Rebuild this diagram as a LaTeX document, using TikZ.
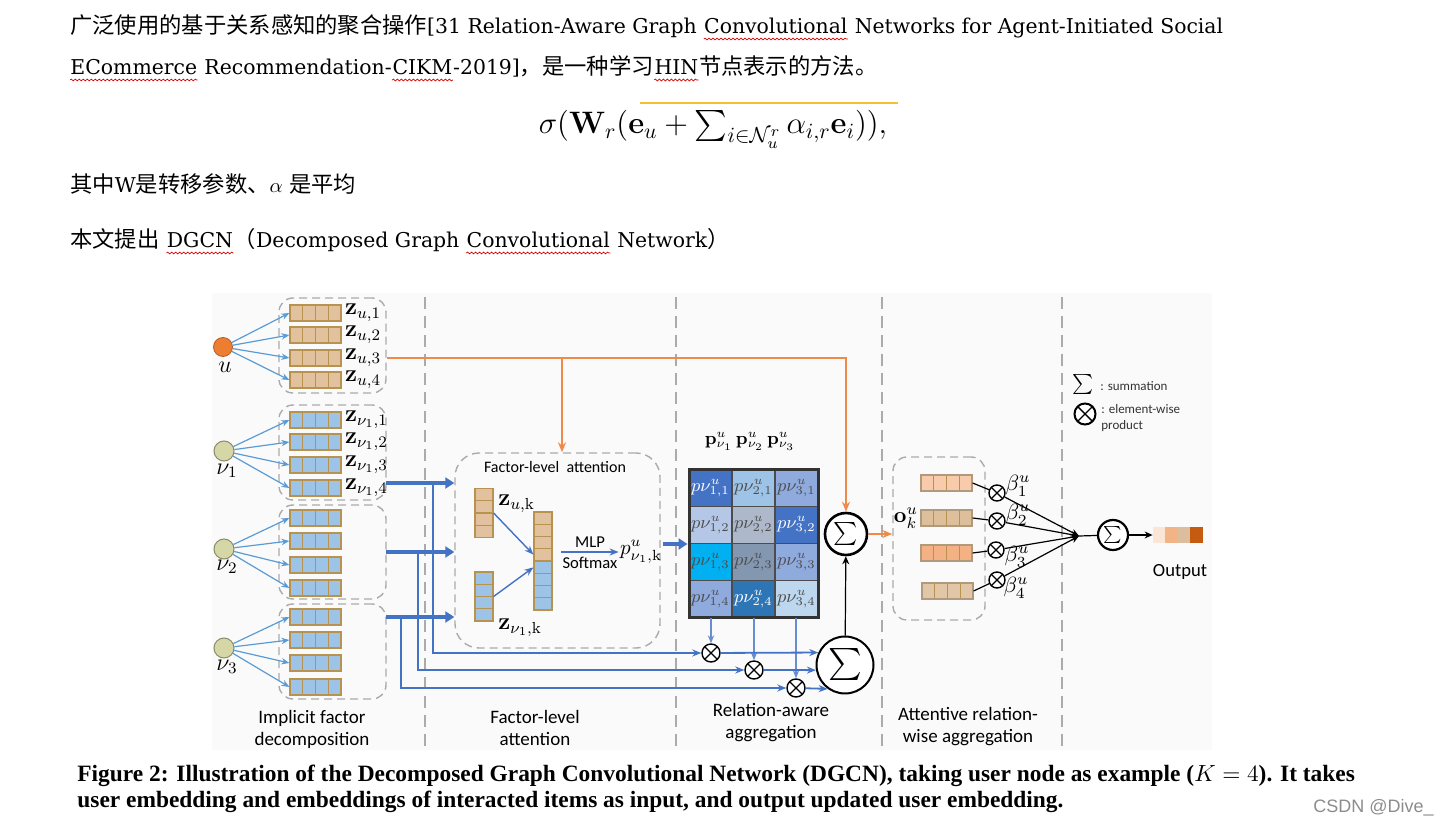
\RequirePackage{fix-cm}
\documentclass[tikz,border=0pt]{standalone}
\usepackage{amsmath,amssymb,bm}
\usepackage[no-math]{fontspec}
\setmainfont{DejaVu Serif}
\setsansfont{Carlito}
\newfontfamily\cjk{Noto Sans CJK SC}[Scale=1.093]
\newfontfamily\capfont{Liberation Serif}
\newfontfamily\wmfont{Liberation Sans}
\usetikzlibrary{arrows.meta,decorations.pathmorphing}
\definecolor{ubrown}{HTML}{E2C29E}
\definecolor{barline}{HTML}{B8924F}
\definecolor{ublue}{HTML}{9DC3E6}
\definecolor{lblue}{HTML}{5B9BD5}
\definecolor{dblue}{HTML}{4472C4}
\definecolor{uorange}{HTML}{ED7D31}
\definecolor{orangeln}{HTML}{F08A4B}
\definecolor{khaki}{HTML}{D6D7A6}
\definecolor{sepgray}{HTML}{ABABAB}
\definecolor{goldln}{HTML}{F2C12E}
\definecolor{m11}{HTML}{4472C4}
\definecolor{m21}{HTML}{9DC3E6}
\definecolor{m31}{HTML}{8FAADC}
\definecolor{m12}{HTML}{B4C7E7}
\definecolor{m22}{HTML}{ADB9CA}
\definecolor{m32}{HTML}{4472C4}
\definecolor{m13}{HTML}{00B0F0}
\definecolor{m23}{HTML}{8497B0}
\definecolor{m33}{HTML}{8FAADC}
\definecolor{m14}{HTML}{8FAADC}
\definecolor{m24}{HTML}{2E75B6}
\definecolor{m34}{HTML}{BDD7EE}
\definecolor{att1}{HTML}{F8CBAD}
\definecolor{att2}{HTML}{DDBF9B}
\definecolor{att3}{HTML}{F4B183}
\definecolor{att4}{HTML}{E2C6A8}
\definecolor{out1}{HTML}{FBE5D6}
\definecolor{out2}{HTML}{F2B487}
\definecolor{out3}{HTML}{DCBE9E}
\definecolor{out4}{HTML}{C55A11}

\begin{document}
\begin{tikzpicture}[x=0.5pt,y=-0.5pt,
  body/.style={anchor=base west,inner sep=0pt,font=\fontsize{10.2}{12}\selectfont},
  wavy/.style={draw=red!85!black,line width=0.35pt,decorate,decoration={snake,amplitude=0.45pt,segment length=2pt}},
  sep/.style={draw=sepgray,line width=0.8pt,dash pattern=on 6pt off 3.5pt},
  grp/.style={draw=sepgray,line width=0.7pt,dash pattern=on 4pt off 2.5pt,rounded corners=7pt,inner sep=0pt},
  unode/.style={circle,draw=uorange!75!black,fill=uorange,minimum size=9.5pt,inner sep=0pt,line width=0.4pt},
  vnode/.style={circle,draw=khaki!65!black,fill=khaki,minimum size=10pt,inner sep=0pt,line width=0.5pt},
  hcells/.style={draw=barline,line width=0.6pt,minimum width=25.5pt,minimum height=8pt,inner sep=0pt,
    path picture={\foreach \i in {1,2,3}{\draw[barline,line width=0.6pt]
      ([xshift=\i*6.375pt]path picture bounding box.north west) --
      ([xshift=\i*6.375pt]path picture bounding box.south west);}}},
  vcells/.style={draw=barline,line width=0.6pt,minimum width=9pt,minimum height=24.5pt,inner sep=0pt,
    path picture={\foreach \i in {1,2,3}{\draw[barline,line width=0.6pt]
      ([yshift=-\i*6.125pt]path picture bounding box.north west) --
      ([yshift=-\i*6.125pt]path picture bounding box.north east);}}},
  mlbl/.style={inner sep=0.5pt,font=\fontsize{12}{13}\selectfont},
  fine/.style={draw=lblue,line width=0.6pt,-{Stealth[length=4pt,width=3.2pt]}},
  thickar/.style={draw=dblue,line width=2pt,-{Triangle[length=4.5pt,width=5.5pt]}},
  bline/.style={draw=dblue,line width=0.9pt,-{Stealth[length=4.5pt,width=3.5pt]}},
  oline/.style={draw=orangeln,line width=1pt},
  oarr/.style={oline,-{Stealth[length=5pt,width=4pt]}},
  kline/.style={draw=black,line width=0.6pt},
  karr/.style={kline,-{Stealth[length=4pt,width=3.5pt]}},
  sigma/.style={circle,draw,line width=1.3pt,inner sep=0pt,fill=white},
  otim/.style={circle,draw,line width=0.7pt,fill=white,inner sep=0pt,minimum size=9pt,
    path picture={\draw[line width=0.7pt] (path picture bounding box.north west) -- (path picture bounding box.south east)
      (path picture bounding box.north east) -- (path picture bounding box.south west);}},
  mcell/.style={minimum width=21.5pt,minimum height=18.5pt,inner sep=0pt,draw=black!70,line width=0.8pt,font=\fontsize{9}{10}\selectfont},
  sec/.style={align=center,font=\sffamily\fontsize{9.5}{11}\selectfont},
  leg/.style={inner sep=0pt,font=\sffamily\fontsize{6.5}{8}\selectfont,text=black!80}]
\useasboundingbox (0,0) rectangle (1448,828);

\node[body] (l1a) at (70,34) {{\cjk 广泛使用的基于关系感知的聚合操作}[31 Relation-Aware Graph\ \null};
\node[body] (l1b) at (l1a.base east) {Convolutional};
\node[body] (l1c) at (l1b.base east) {\ Networks for Agent-Initiated Social};
\node[body] (l2a) at (70,75) {ECommerce};
\node[body] (l2b) at (l2a.base east) {\ Recommendation-};
\node[body] (l2c) at (l2b.base east) {CIKM};
\node[body] (l2d) at (l2c.base east) {-2019]{\cjk ，是一种学习}};
\node[body] (l2e) at (l2d.base east) {HIN};
\node[body] (l2f) at (l2e.base east) {{\cjk 节点表示的方法。}};
\foreach \w in {l1b,l2a,l2c,l2e}
  \draw[wavy] ([yshift=-2.5pt]\w.base west) -- ([yshift=-2.5pt]\w.base east);

\draw[goldln,line width=0.6pt] (640,103) -- (898,103);
\node[anchor=base,inner sep=0pt,font=\fontsize{15.5}{18}\selectfont] (eq) at (713,134)
  {$\sigma(\mathbf{W}_r(\mathbf{e}_u+\sum_{i\in\mathcal{N}_u^r}\alpha_{i,r}\mathbf{e}_i)),$};

\node[body] (l3) at (70,193) {{\cjk 其中}W{\cjk 是转移参数、}$\alpha$ {\cjk 是平均}};
\node[body] (l4a) at (70,248) {{\cjk 本文提出}\ \null};
\node[body] (l4b) at (l4a.base east) {DGCN};
\node[body] (l4c) at (l4b.base east) {{\cjk （}Decomposed Graph\ \null};
\node[body] (l4d) at (l4c.base east) {Convolutional};
\node[body] (l4e) at (l4d.base east) {\ Network{\cjk ）}};
\foreach \w in {l4b,l4d}
  \draw[wavy] ([yshift=-2.5pt]\w.base west) -- ([yshift=-2.5pt]\w.base east);

\fill[black!2] (212,293) rectangle (1212,750);
\foreach \x in {425,676,882,1062}
  \draw[sep] (\x,297) -- (\x,748);

\node[grp,minimum width=53.5pt,minimum height=47.5pt] (gu) at (332.5,345.5) {};
\node[grp,minimum width=53.5pt,minimum height=47.5pt] (gv1) at (332.5,452.5) {};
\node[grp,minimum width=53.5pt,minimum height=47pt] (gv2) at (332.5,552) {};
\node[grp,minimum width=53.5pt,minimum height=47.5pt] (gv3) at (332.5,651.5) {};

\node[unode] (u) at (223,347) {};
\node[mlbl] (ul) at (225,367) {$u$};
\node[vnode] (v1) at (224,451) {};
\node[mlbl] (v1l) at (227,471) {$\nu_1$};
\node[vnode] (v2) at (224,549) {};
\node[mlbl] (v2l) at (227,567) {$\nu_2$};
\node[vnode] (v3) at (224,648) {};
\node[mlbl] (v3l) at (227,667) {$\nu_3$};

\foreach \y [count=\i] in {313,335,358,380} {
  \node[hcells,fill=ubrown] (zu\i) at (315.5,\y) {};
  \draw[fine] (u) -- (zu\i.west);
  \node[mlbl,anchor=west,inner sep=1.5pt] at (zu\i.east) {$\mathbf{z}_{u,\i}$};
}
\foreach \y [count=\i] in {420,442,465,488} {
  \node[hcells,fill=ublue] (zva\i) at (315.5,\y) {};
  \draw[fine] (v1) -- (zva\i.west);
  \node[mlbl,anchor=west,inner sep=1.5pt] at (zva\i.east) {$\mathbf{z}_{\nu_1,\i}$};
}
\foreach \y [count=\i] in {518,541,565,588} {
  \node[hcells,fill=ublue] (zvb\i) at (315.5,\y) {};
  \draw[fine] (v2) -- (zvb\i.west);
}
\foreach \y [count=\i] in {617,640,663,687} {
  \node[hcells,fill=ublue] (zvc\i) at (315.5,\y) {};
  \draw[fine] (v3) -- (zvc\i.west);
}

\node[grp,rounded corners=12pt,minimum width=102.5pt,minimum height=97.5pt] (fbox) at (557.5,550.5) {};
\node[inner sep=0pt,font=\sffamily\fontsize{8}{9}\selectfont] (ftitle) at (555,467) {Factor-level\ \ attention};
\node[vcells,fill=ubrown] (ku) at (484,513) {};
\node[vcells,fill=ublue] (kv) at (484,596.5) {};
\node[vcells,fill=ubrown] (cb) at (543,536.5) {};
\node[vcells,fill=ublue] (cv) at (543,585.5) {};
\node[mlbl,anchor=west] (kul) at (497,504) {$\mathbf{z}_{u,\mathrm{k}}$};
\node[mlbl,anchor=west] (kvl) at (497,628) {$\mathbf{z}_{\nu_1,\mathrm{k}}$};
\draw[bline,line width=0.7pt] (ku.east) -- ([yshift=3.5pt]cb.south west);
\draw[bline,line width=0.7pt] (kv.east) -- ([yshift=-3.5pt]cv.north west);
\node[mlbl,font=\fontsize{10.5}{12}\selectfont] (pl) at (641,552) {$p^{u}_{\nu_1,\mathrm{k}}$};
\coordinate (mlp) at (561,552);
\draw[bline,line width=0.7pt] (mlp) -- (pl);
\node[inner sep=0pt,font=\sffamily\fontsize{8.3}{9}\selectfont] (mlpl) at (590,542) {MLP};
\node[inner sep=0pt,font=\sffamily\fontsize{8.3}{9}\selectfont] (sml) at (590,563) {Softmax};

\coordinate (t1) at (386,483);
\coordinate (t2) at (386,552);
\coordinate (t3) at (386,617);
\foreach \t in {t1,t2,t3}
  \draw[thickar] (\t) -- (\t -| fbox.west);

\foreach \cx/\ry/\cc/\tc in {1/1/m11/white,2/1/m21/black!70,3/1/m31/black!70,
    1/2/m12/black!70,2/2/m22/black!70,3/2/m32/white,
    1/3/m13/black!70,2/3/m23/black!70,3/3/m33/black!70,
    1/4/m14/black!70,2/4/m24/white,3/4/m34/black!70}
  \node[mcell,fill=\cc,text=\tc] (c\cx\ry) at ({667.5+43*\cx},{451+37*\ry}) {$p\nu^{u}_{\cx,\ry}$};
\node[draw=black!80,line width=1.5pt,minimum width=64.5pt,minimum height=74pt,inner sep=0pt] (mat) at (753.5,544) {};
\node[mlbl,font=\fontsize{9}{11}\selectfont] (mt) at (750,441) {$\mathbf{p}^u_{\nu_1}\,\mathbf{p}^u_{\nu_2}\,\mathbf{p}^u_{\nu_3}$};
\draw[thickar] (pl.east |- mat.west) -- (mat.west);

\node[otim] (m1) at (711,653) {};
\node[otim] (m2) at (754,670) {};
\node[otim] (m3) at (796,688) {};
\node[sigma,minimum size=21pt] (sA) at (846,534) {\fontsize{11.5}{11.5}\selectfont$\sum$};
\node[sigma,line width=1pt,minimum size=28.5pt] (sB) at (845,665) {\fontsize{16}{16}\selectfont$\sum$};

\coordinate (b1) at (433,483);
\coordinate (b2) at (418,552);
\coordinate (b3) at (401,617);
\draw[bline] (b1) |- (m1);
\draw[bline] (b2) |- (m2);
\draw[bline] (b3) |- (m3);
\draw[fine,draw=dblue!80] (m1 |- c14.south) -- (m1);
\draw[fine,draw=dblue!80] (m2 |- c24.south) -- (m2);
\draw[fine,draw=dblue!80] (m3 |- c34.south) -- (m3);
\draw[bline] (m1) -- (sB.155);
\draw[bline] (m2) -- (sB.190);
\draw[bline] (m3) -- (sB.234);
\draw[karr] (sB) -- (sA);

\coordinate (obr) at (562,358);
\draw[oarr] (gu.east |- zu3) -| (sA.north);
\draw[oarr] (obr) -- (obr |- fbox.north);

\node[grp,minimum width=46pt,minimum height=81.5pt] (abox) at (939,538.5) {};
\draw[oarr,line width=0.8pt] (sA) -- (sA -| abox.west);
\node[hcells,fill=att1,draw=att2!80!black] (a1) at (946.5,483) {};
\node[hcells,fill=att2,draw=att2!80!black] (a2) at (946.5,518) {};
\node[hcells,fill=att3,draw=att2!80!black] (a3) at (946.5,553) {};
\node[hcells,fill=att4,draw=att2!80!black] (a4) at (947.5,591) {};
\node[mlbl,anchor=east,inner sep=1pt,font=\fontsize{11}{12}\selectfont] (ol) at (a2.west) {$\mathbf{o}^u_k$};
\node[otim,minimum size=8pt] (o1) at (997,493) {};
\node[otim,minimum size=8pt] (o2) at (997,521) {};
\node[otim,minimum size=8pt] (o3) at (996,550) {};
\node[otim,minimum size=8pt] (o4) at (997,580) {};
\coordinate (conv) at (1079,536);
\foreach \i in {1,2,3,4} {
  \draw[kline] (a\i.east) -- (o\i);
  \draw[karr] (o\i) -- (conv);
}
\node[mlbl,font=\fontsize{11}{12}\selectfont] (be1) at (1018,486) {$\beta^u_1$};
\node[mlbl,font=\fontsize{11}{12}\selectfont] (be2) at (1018,515) {$\beta^u_2$};
\node[mlbl,font=\fontsize{11}{12}\selectfont] (be3) at (1017,557) {$\beta^u_3$};
\node[mlbl,font=\fontsize{11}{12}\selectfont] (be4) at (1016,588) {$\beta^u_4$};
\node[sigma,minimum size=15pt,line width=1.1pt] (sC) at (1113,535) {\fontsize{8.5}{8.5}\selectfont$\sum$};
\node[minimum width=25pt,minimum height=8pt,inner sep=0pt] (outb) at (1178,535) {};
\foreach \c [count=\i from 0] in {out1,out2,out3,out4}
  \fill[\c] ([xshift=\i*6.25pt]outb.south west) rectangle ++(12.5,-16);
\draw[kline] (conv) -- (sC);
\draw[karr] (sC) -- (outb);
\node[inner sep=0pt,font=\sffamily\fontsize{9.3}{10}\selectfont] (outl) at (1180,572) {Output};

\node[inner sep=0pt] (lsum) at (1083,385) {\fontsize{10}{10}\selectfont$\sum$};
\node[leg,anchor=west] (lsumt) at (1100,386) {: summation};
\node[otim,minimum size=10.5pt,line width=1pt] (lot) at (1085,414) {};
\node[leg,anchor=north west,align=left] (lott) at (1101,404) {: element-wise\\product};

\node[sec] (s1) at (312,729) {Implicit factor\\decomposition};
\node[sec] (s2) at (535,728) {Factor-level\\attention};
\node[sec] (s3) at (771,723) {Relation-aware\\aggregation};
\node[sec] (s4) at (968,727) {Attentive relation-\\wise aggregation};

\node[anchor=base west,inner sep=0pt,font=\capfont\bfseries\fontsize{11.7}{13}\selectfont] (cap1) at (77,782)
  {Figure 2: Illustration of the Decomposed Graph Convolutional Network (DGCN), taking user node as example ($K=4$). It takes};
\node[anchor=base west,inner sep=0pt,font=\capfont\bfseries\fontsize{11.7}{13}\selectfont] (cap2) at (77,808)
  {user embedding and embeddings of interacted items as input, and output updated user embedding.};
\node[anchor=base west,inner sep=0pt,font=\wmfont\fontsize{9}{10}\selectfont,text=black!45] (wm) at (1313,813) {CSDN @Dive\_};
\end{tikzpicture}
\end{document}
